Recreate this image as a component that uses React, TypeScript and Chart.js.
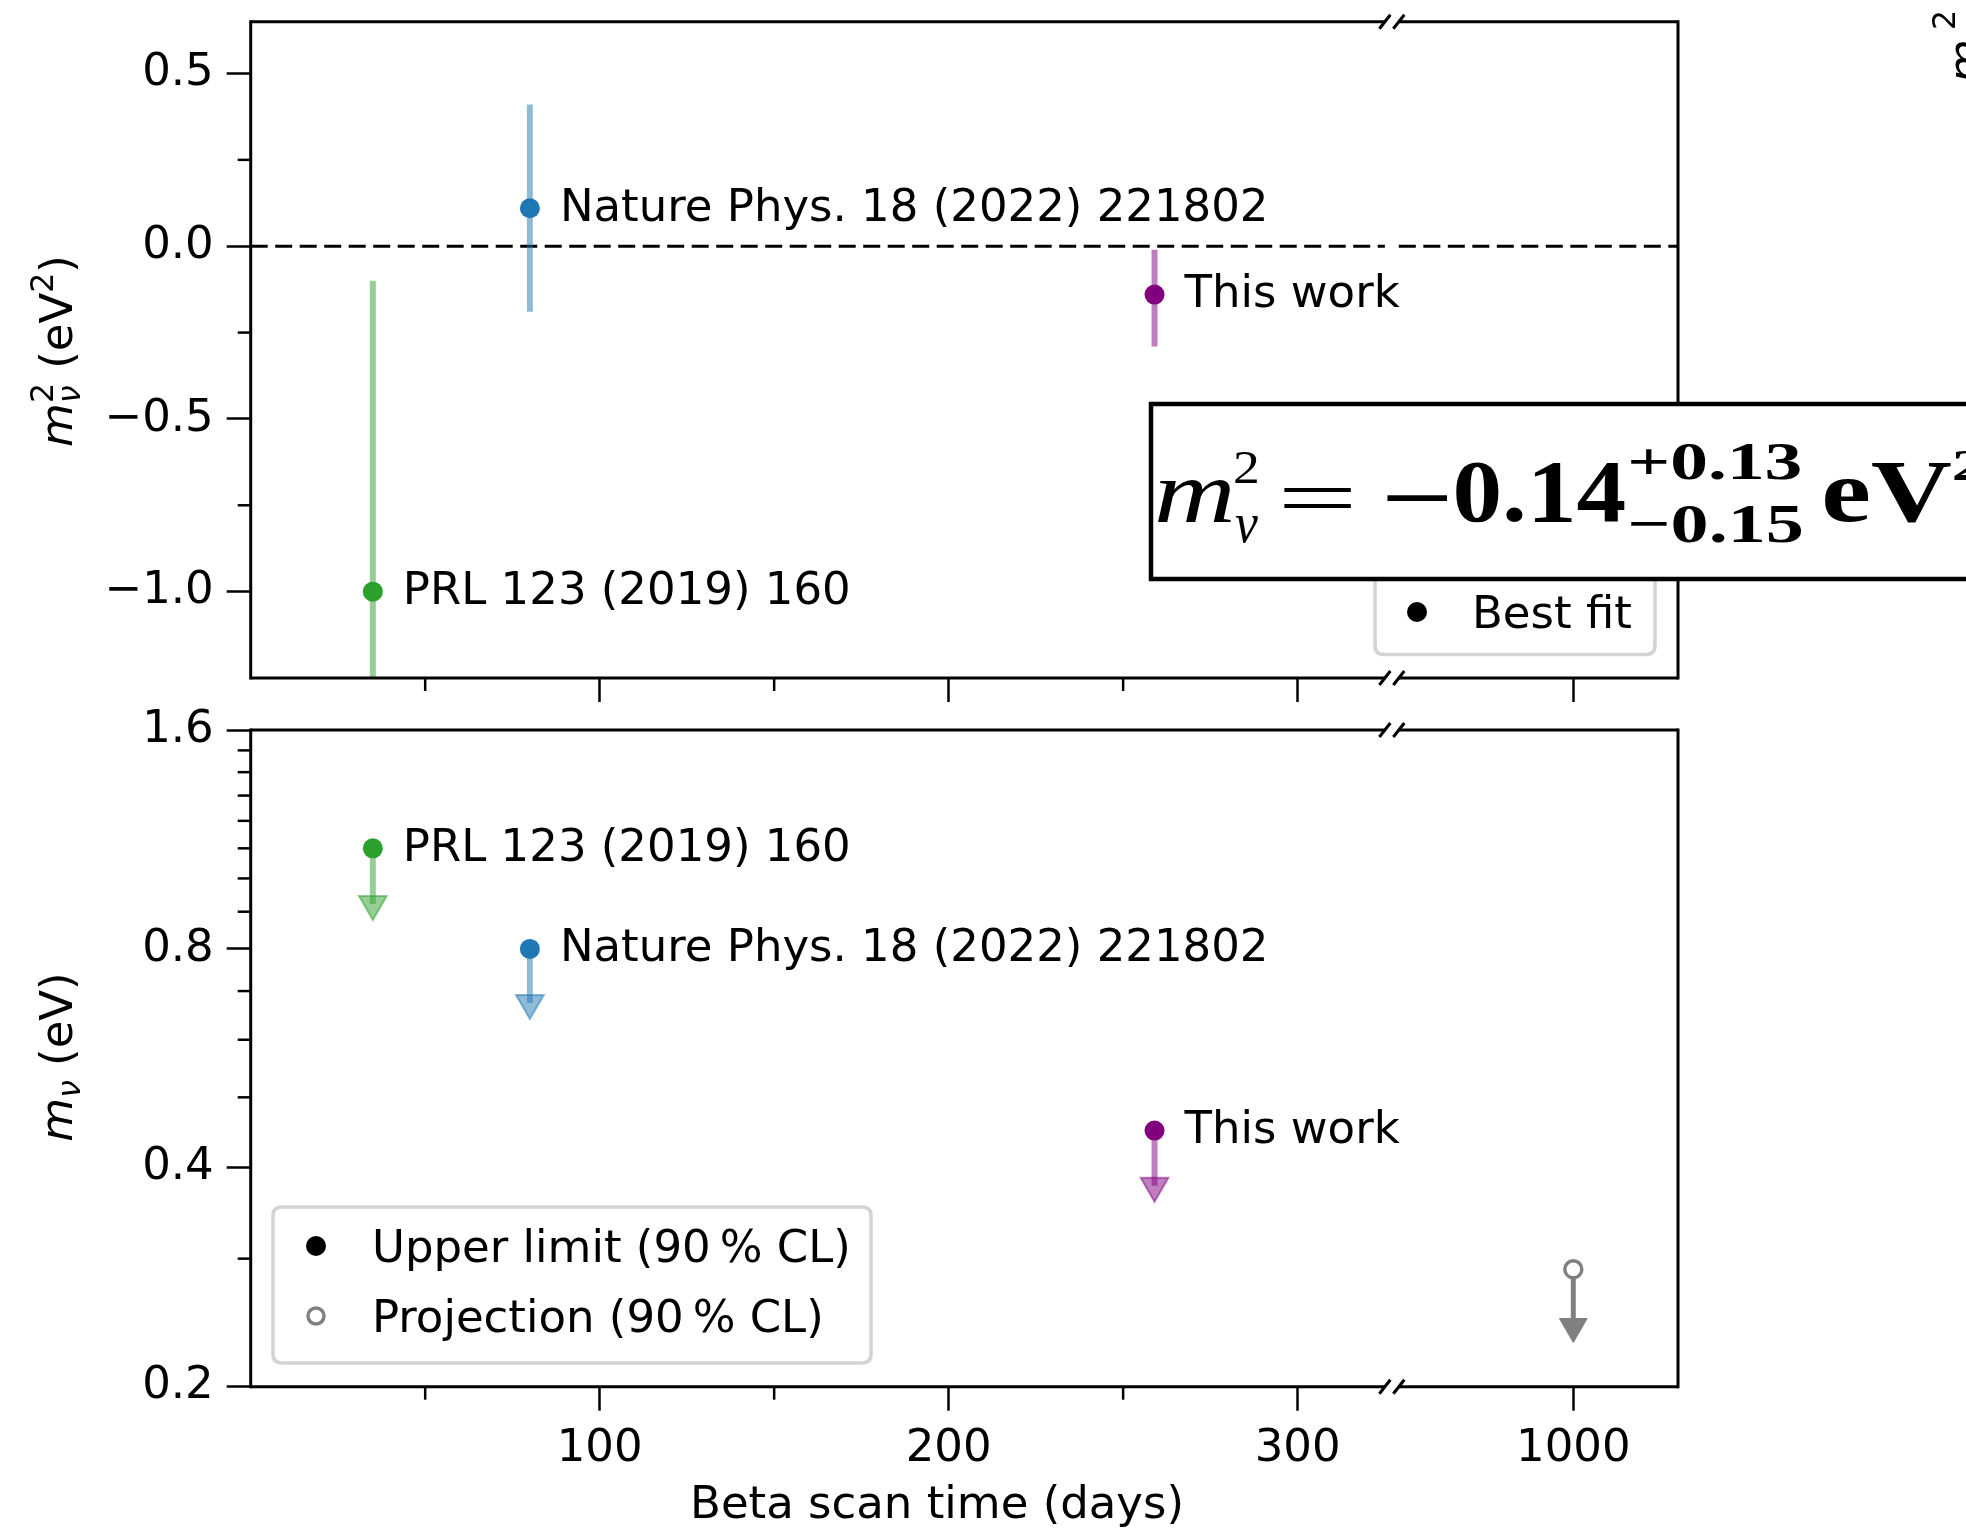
import React, { useEffect, useRef } from 'react';
import { Chart, registerables, LinearScale } from 'chart.js';

// ---------------- data ----------------
const SOURCE_LABELS = ['PRL 123 (2019) 160', 'Nature Phys. 18 (2022) 221802', 'This work'];
const SCAN_DAYS = [35, 80, 259];
const POINT_COLORS = ['#2ca02c', '#1f77b4', '#800080'];
const BAR_COLORS = ['rgba(44,160,44,0.5)', 'rgba(31,119,180,0.5)', 'rgba(128,0,128,0.5)'];

// top panel: m_nu^2 best fit with asymmetric intervals (eV^2)
const M2_BEST = [-1.0, 0.11, -0.14];
const M2_LOW = [-2.1, -0.19, -0.29];
const M2_HIGH = [-0.1, 0.41, -0.01];

// bottom panel: m_nu upper limits (eV) and arrow end values
const M_LIMIT = [1.1, 0.8, 0.45];
const M_ARROW_END = [0.922, 0.674, 0.378];

// projection
const PROJ_DAYS = [1000];
const PROJ_LIMIT = [0.29];
const PROJ_ARROW_END = [0.242];
const GREY = '#808080';

// axes
const X_MAJOR = [100, 200, 300, 1000];
const X_MINOR = [50, 150, 250];
const X_LEFT_MAX = 325;
const X_RIGHT_MIN = 950;
const X_RIGHT_MAX = 1030;
const X_BREAK_GAP = 4;

const Y_TOP_MIN = -1.25;
const Y_TOP_MAX = 0.65;
const Y_TOP_MAJOR = [-1.0, -0.5, 0.0, 0.5];
const Y_TOP_MINOR = [-0.75, -0.25, 0.25];

const Y_BOT_MIN = 0.2;
const Y_BOT_MAX = 1.6;
const Y_BOT_MAJOR = [0.2, 0.4, 0.8, 1.6];
const Y_BOT_MINOR = [0.3, 0.5, 0.6, 0.7, 0.9, 1.0, 1.1, 1.2, 1.3, 1.4, 1.5];

const X_TITLE = 'Beta scan time (days)';
const LEGEND_TOP = ['Best fit'];
const LEGEND_BOTTOM = ['Upper limit (90\u2009% CL)', 'Projection (90\u2009% CL)'];

// ---------------- layout ----------------
const W = 1966;
const TOP_H = 720;
const BOT_TOP = 680;
const BOT_H = 850;
const AREA_LEFT = 250.7;
const AREA_RIGHT = 1678;
const TOP_AREA_TOP = 21.7;
const TOP_AREA_BOTTOM = 678;
const BOT_AREA_TOP = 730 - BOT_TOP;
const BOT_AREA_BOTTOM = 1386.7 - BOT_TOP;
const FONT = '"DejaVu Sans"';
const SERIF = '"Liberation Serif"';

Chart.register(...registerables);

class BrokenScale extends (LinearScale as any) {
  static id = 'broken';
  determineDataLimits() {
    this.min = 0;
    this.max = X_LEFT_MAX + X_BREAK_GAP + (X_RIGHT_MAX - X_RIGHT_MIN);
  }
  buildTicks() {
    this.start = this.min;
    this.end = this.max;
    return [...X_MINOR, ...X_MAJOR].sort((a, b) => a - b).map((v) => ({ value: v }));
  }
  getPixelForValue(v: any) {
    if (v === null || v === undefined || Number.isNaN(v)) return NaN;
    const c = v >= X_RIGHT_MIN ? v - X_RIGHT_MIN + X_LEFT_MAX + X_BREAK_GAP : v;
    return super.getPixelForValue(c);
  }
}
Chart.register(BrokenScale as any);
Chart.defaults.font.family = 'DejaVu Sans';
Chart.defaults.color = '#000';

const fmt = (v: number) => v.toFixed(1).replace('-', '\u2212');

function line(ctx: CanvasRenderingContext2D, x1: number, y1: number, x2: number, y2: number) {
  ctx.beginPath();
  ctx.moveTo(x1, y1);
  ctx.lineTo(x2, y2);
  ctx.stroke();
}

function drawFrame(chart: any, yMinor: number[]) {
  const { ctx, chartArea: a, scales } = chart;
  const xs = scales.x;
  const ys = scales.y;
  const bl = xs.getPixelForValue(X_LEFT_MAX);
  const br = xs.getPixelForValue(X_RIGHT_MIN);
  ctx.save();
  ctx.strokeStyle = '#000';
  ctx.lineWidth = 3;
  ctx.lineCap = 'square';
  line(ctx, a.left, a.top, a.left, a.bottom);
  line(ctx, a.right, a.top, a.right, a.bottom);
  ctx.lineCap = 'butt';
  for (const y of [a.top, a.bottom]) {
    line(ctx, a.left, y, bl, y);
    line(ctx, br, y, a.right, y);
  }
  ctx.lineWidth = 3;
  for (const y of [a.top, a.bottom]) {
    for (const x of [bl, br]) line(ctx, x - 5.5, y + 7, x + 5.5, y - 7);
  }
  ctx.lineWidth = 2.5;
  for (const v of X_MINOR) {
    const px = xs.getPixelForValue(v);
    line(ctx, px, a.bottom, px, a.bottom + 13);
  }
  for (const v of yMinor) {
    const py = ys.getPixelForValue(v);
    line(ctx, a.left - 13, py, a.left, py);
  }
  ctx.restore();
}

function drawAnnotations(chart: any, values: number[]) {
  const { ctx, scales } = chart;
  ctx.save();
  ctx.fillStyle = '#000';
  ctx.font = `45px ${FONT}`;
  ctx.textAlign = 'left';
  ctx.textBaseline = 'alphabetic';
  SOURCE_LABELS.forEach((t, i) => {
    const px = scales.x.getPixelForValue(SCAN_DAYS[i]);
    const py = scales.y.getPixelForValue(values[i]);
    ctx.fillText(t, px + 30, py + 12.4);
  });
  ctx.restore();
}

function roundRect(ctx: CanvasRenderingContext2D, x: number, y: number, w: number, h: number, r: number) {
  ctx.beginPath();
  ctx.moveTo(x + r, y);
  ctx.lineTo(x + w - r, y);
  ctx.quadraticCurveTo(x + w, y, x + w, y + r);
  ctx.lineTo(x + w, y + h - r);
  ctx.quadraticCurveTo(x + w, y + h, x + w - r, y + h);
  ctx.lineTo(x + r, y + h);
  ctx.quadraticCurveTo(x, y + h, x, y + h - r);
  ctx.lineTo(x, y + r);
  ctx.quadraticCurveTo(x, y, x + r, y);
  ctx.closePath();
}

function drawLegendBox(ctx: CanvasRenderingContext2D, x: number, y: number, w: number, h: number) {
  ctx.save();
  roundRect(ctx, x, y, w, h, 9);
  ctx.fillStyle = 'rgba(255,255,255,0.85)';
  ctx.fill();
  ctx.strokeStyle = '#d3d3d3';
  ctx.lineWidth = 3.5;
  ctx.stroke();
  ctx.restore();
}

type Seg = { t: string; f: string; dy: number }[];
function drawRichRot(ctx: CanvasRenderingContext2D, bx: number, cy: number, segs: Seg[]) {
  ctx.save();
  const widths = segs.map((seg) =>
    Math.max(
      ...seg.map((p) => {
        ctx.font = p.f;
        return ctx.measureText(p.t).width;
      })
    )
  );
  const total = widths.reduce((s, v) => s + v, 0);
  ctx.translate(bx, cy + total / 2);
  ctx.rotate(-Math.PI / 2);
  ctx.fillStyle = '#000';
  ctx.textAlign = 'left';
  ctx.textBaseline = 'alphabetic';
  let x = 0;
  segs.forEach((seg, i) => {
    seg.forEach((p) => {
      ctx.font = p.f;
      ctx.fillText(p.t, x, -p.dy);
    });
    x += widths[i];
  });
  ctx.restore();
}

function drawInk(ctx: CanvasRenderingContext2D, t: string, f: string, x0: number, x1: number, y0: number, y1: number) {
  ctx.save();
  ctx.font = f;
  ctx.textAlign = 'left';
  ctx.textBaseline = 'alphabetic';
  const m = ctx.measureText(t);
  const w = m.actualBoundingBoxLeft + m.actualBoundingBoxRight;
  const h = m.actualBoundingBoxAscent + m.actualBoundingBoxDescent;
  ctx.translate(x0, y0);
  ctx.scale((x1 - x0) / w, (y1 - y0) / h);
  ctx.fillStyle = '#000';
  ctx.fillText(t, m.actualBoundingBoxLeft, m.actualBoundingBoxAscent);
  ctx.restore();
}

const M_IT = `italic 45px ${FONT}`;
const M_RM = `45px ${FONT}`;
const S_IT = `italic 31.5px ${FONT}`;
const S_RM = `31.5px ${FONT}`;

const topPlugin = {
  id: 'topExtras',
  afterDraw(chart: any) {
    const { ctx } = chart;
    drawFrame(chart, Y_TOP_MINOR);
    drawAnnotations(chart, M2_BEST);
    // y title
    drawRichRot(ctx, 72, 351, [
      [{ t: 'm', f: M_IT, dy: 0 }],
      [
        { t: '2', f: S_RM, dy: 19 },
        { t: '\u03bd', f: S_IT, dy: -8 },
      ],
      [{ t: ' (eV', f: M_RM, dy: 0 }],
      [{ t: '2', f: S_RM, dy: 19 }],
      [{ t: ')', f: M_RM, dy: 0 }],
    ]);
    // legend "Best fit"
    drawLegendBox(ctx, 1375, 560, 280, 94.5);
    ctx.save();
    ctx.fillStyle = '#000';
    ctx.beginPath();
    ctx.arc(1417, 612, 10, 0, Math.PI * 2);
    ctx.fill();
    ctx.font = M_RM;
    ctx.fillText(LEGEND_TOP[0], 1472, 628.4);
    ctx.restore();
    // equation box
    ctx.save();
    ctx.fillStyle = '#fff';
    ctx.fillRect(1151, 404, 900, 175);
    ctx.strokeStyle = '#000';
    ctx.lineWidth = 4.5;
    ctx.strokeRect(1151, 404, 900, 175);
    ctx.restore();
    const B = `bold 84px ${SERIF}`;
    const BS = `bold 56px ${SERIF}`;
    drawInk(ctx, 'm', `italic 84px ${SERIF}`, 1158, 1232, 479, 521.7);
    drawInk(ctx, '2', `56px ${SERIF}`, 1235, 1257, 452, 483);
    drawInk(ctx, '\u03bd', `italic 56px ${SERIF}`, 1235, 1258, 516, 543);
    drawInk(ctx, '=', `84px ${SERIF}`, 1284, 1352, 487, 508);
    drawInk(ctx, '\u2212', B, 1387, 1448, 495, 502);
    drawInk(ctx, '0.14', B, 1456, 1625, 461, 521.7);
    drawInk(ctx, '+0.13', BS, 1630, 1801, 443, 480);
    drawInk(ctx, '\u22120.15', BS, 1630, 1801, 505, 543);
    drawInk(ctx, 'eV', B, 1824, 1951, 461, 521.7);
    drawInk(ctx, '2', BS, 1954, 1984, 450, 480);
    // fragment of neighbouring panel label
    ctx.save();
    ctx.translate(1980, 83);
    ctx.rotate(-Math.PI / 2);
    ctx.fillStyle = '#000';
    ctx.font = M_IT;
    ctx.fillText('m', 0, 0);
    ctx.font = S_RM;
    ctx.fillText('2', 53, -25);
    ctx.restore();
  },
};

const botPlugin = {
  id: 'botExtras',
  afterDraw(chart: any) {
    const { ctx } = chart;
    drawFrame(chart, Y_BOT_MINOR);
    drawAnnotations(chart, M_LIMIT);
    drawRichRot(ctx, 72, 1057 - BOT_TOP, [
      [{ t: 'm', f: M_IT, dy: 0 }],
      [{ t: '\u03bd', f: S_IT, dy: -8 }],
      [{ t: ' (eV)', f: M_RM, dy: 0 }],
    ]);
    // legend
    const ly = 1207 - BOT_TOP;
    drawLegendBox(ctx, 273, ly, 598, 156);
    ctx.save();
    ctx.fillStyle = '#000';
    ctx.beginPath();
    ctx.arc(316, 1246 - BOT_TOP, 10, 0, Math.PI * 2);
    ctx.fill();
    ctx.strokeStyle = GREY;
    ctx.lineWidth = 3.5;
    ctx.beginPath();
    ctx.arc(316, 1316 - BOT_TOP, 8, 0, Math.PI * 2);
    ctx.stroke();
    ctx.font = M_RM;
    ctx.fillText(LEGEND_BOTTOM[0], 372, 1246 - BOT_TOP + 16.4);
    ctx.fillText(LEGEND_BOTTOM[1], 372, 1316 - BOT_TOP + 16.4);
    // x title
    ctx.textAlign = 'center';
    ctx.fillText(X_TITLE, 937, 1518 - BOT_TOP);
    ctx.restore();
  },
};

function gridOpts(minor: number[]) {
  return {
    display: true,
    drawOnChartArea: false,
    drawTicks: true,
    tickLength: 24,
    tickWidth: 2.5,
    tickColor: (c: any) => (c.tick && minor.includes(c.tick.value) ? 'rgba(0,0,0,0)' : '#000'),
  };
}

const tickFont = { family: 'DejaVu Sans', size: 45 };

function baseOptions(areaTop: number, canvasH: number, areaBottom: number, showXLabels: boolean) {
  return {
    animation: false,
    responsive: false,
    devicePixelRatio: 1,
    events: [],
    layout: { padding: { left: 0, top: areaTop, right: W - AREA_RIGHT, bottom: 0 } },
    plugins: { legend: { display: false }, tooltip: { enabled: false }, title: { display: false } },
    elements: { line: { tension: 0 } },
    scales: {
      x: {
        type: 'broken',
        position: 'bottom',
        grid: gridOpts(X_MINOR),
        border: { display: false },
        ticks: {
          display: showXLabels,
          autoSkip: false,
          maxRotation: 0,
          minRotation: 0,
          padding: 12,
          color: '#000',
          font: tickFont,
          callback: (v: number) => (X_MAJOR.includes(v) ? String(v) : ''),
        },
        afterFit: (s: any) => {
          s.height = canvasH - areaBottom;
          s.paddingLeft = 0;
          s.paddingRight = 0;
        },
      },
    },
  } as any;
}

function topConfig(): any {
  const options = baseOptions(TOP_AREA_TOP, TOP_H, TOP_AREA_BOTTOM, false);
  options.scales.y = {
    type: 'linear',
    min: Y_TOP_MIN,
    max: Y_TOP_MAX,
    afterBuildTicks: (s: any) => {
      s.ticks = [...Y_TOP_MINOR, ...Y_TOP_MAJOR].sort((a, b) => a - b).map((v) => ({ value: v }));
    },
    grid: gridOpts(Y_TOP_MINOR),
    border: { display: false },
    ticks: {
      autoSkip: false,
      padding: 13,
      color: '#000',
      font: tickFont,
      callback: (v: number) => (Y_TOP_MAJOR.includes(v) ? fmt(v) : ''),
    },
    afterFit: (s: any) => {
      s.width = AREA_LEFT;
      s.paddingTop = 0;
      s.paddingBottom = 0;
    },
  };
  const datasets: any[] = [
    {
      data: [{ x: 0, y: 0 }, { x: X_LEFT_MAX, y: 0 }],
      borderColor: '#000',
      borderWidth: 3,
      borderDash: [17, 7.5],
      pointRadius: 0,
      order: 3,
      clip: 0,
    },
    {
      data: [{ x: X_RIGHT_MIN, y: 0 }, { x: X_RIGHT_MAX, y: 0 }],
      borderColor: '#000',
      borderWidth: 3,
      borderDash: [17, 7.5],
      pointRadius: 0,
      order: 3,
      clip: 0,
    },
    ...SCAN_DAYS.map((d, i) => ({
      data: [{ x: d, y: M2_LOW[i] }, { x: d, y: M2_HIGH[i] }],
      borderColor: BAR_COLORS[i],
      borderWidth: 6,
      borderCapStyle: 'butt',
      pointRadius: 0,
      order: 2,
      clip: 0,
    })),
    {
      data: SCAN_DAYS.map((d, i) => ({ x: d, y: M2_BEST[i] })),
      showLine: false,
      pointRadius: 10,
      pointBackgroundColor: POINT_COLORS,
      pointBorderColor: POINT_COLORS,
      pointBorderWidth: 0,
      order: 0,
      clip: 0,
    },
  ];
  return { type: 'line', data: { datasets }, options, plugins: [topPlugin] };
}

function botConfig(): any {
  const options = baseOptions(BOT_AREA_TOP, BOT_H, BOT_AREA_BOTTOM, true);
  options.scales.y = {
    type: 'logarithmic',
    min: Y_BOT_MIN,
    max: Y_BOT_MAX,
    afterBuildTicks: (s: any) => {
      s.ticks = [...Y_BOT_MINOR, ...Y_BOT_MAJOR].sort((a, b) => a - b).map((v) => ({ value: v }));
    },
    grid: gridOpts(Y_BOT_MINOR),
    border: { display: false },
    ticks: {
      autoSkip: false,
      padding: 13,
      color: '#000',
      font: tickFont,
      callback: (v: number) => (Y_BOT_MAJOR.includes(v) ? v.toFixed(1) : ''),
    },
    afterFit: (s: any) => {
      s.width = AREA_LEFT;
      s.paddingTop = 0;
      s.paddingBottom = 0;
    },
  };
  const datasets: any[] = [
    ...SCAN_DAYS.map((d, i) => ({
      data: [{ x: d, y: M_LIMIT[i] }, { x: d, y: M_ARROW_END[i] }],
      borderColor: BAR_COLORS[i],
      borderWidth: 6,
      borderCapStyle: 'butt',
      pointRadius: 0,
      order: 2,
      clip: 0,
    })),
    {
      data: SCAN_DAYS.map((d, i) => ({ x: d, y: M_ARROW_END[i] })),
      showLine: false,
      pointStyle: 'triangle',
      pointRotation: 180,
      pointRadius: 16,
      pointBackgroundColor: BAR_COLORS,
      pointBorderColor: BAR_COLORS,
      pointBorderWidth: 2,
      order: 1,
      clip: 0,
    },
    {
      data: SCAN_DAYS.map((d, i) => ({ x: d, y: M_LIMIT[i] })),
      showLine: false,
      pointRadius: 10,
      pointBackgroundColor: POINT_COLORS,
      pointBorderColor: POINT_COLORS,
      pointBorderWidth: 0,
      order: 0,
      clip: 0,
    },
    {
      data: [{ x: PROJ_DAYS[0], y: PROJ_LIMIT[0] }, { x: PROJ_DAYS[0], y: PROJ_ARROW_END[0] }],
      borderColor: GREY,
      borderWidth: 5,
      borderCapStyle: 'butt',
      pointRadius: 0,
      order: 2,
      clip: 0,
    },
    {
      data: PROJ_DAYS.map((d, i) => ({ x: d, y: PROJ_ARROW_END[i] })),
      showLine: false,
      pointStyle: 'triangle',
      pointRotation: 180,
      pointRadius: 16,
      pointBackgroundColor: GREY,
      pointBorderColor: GREY,
      pointBorderWidth: 1,
      order: 1,
      clip: 0,
    },
    {
      data: PROJ_DAYS.map((d, i) => ({ x: d, y: PROJ_LIMIT[i] })),
      showLine: false,
      pointRadius: 8.5,
      pointBackgroundColor: '#fff',
      pointBorderColor: GREY,
      pointBorderWidth: 3.5,
      order: 0,
      clip: 0,
    },
  ];
  return { type: 'line', data: { datasets }, options, plugins: [botPlugin] };
}

export default function App() {
  const topRef = useRef<HTMLCanvasElement>(null);
  const botRef = useRef<HTMLCanvasElement>(null);
  useEffect(() => {
    const top = new Chart(topRef.current as any, topConfig());
    const bot = new Chart(botRef.current as any, botConfig());
    return () => {
      top.destroy();
      bot.destroy();
    };
  }, []);
  return (
    <div style={{ position: 'absolute', left: 0, top: 0, width: W, height: 1530, background: '#fff', overflow: 'hidden' }}>
      <canvas ref={topRef} width={W} height={TOP_H} style={{ position: 'absolute', left: 0, top: 0 }} />
      <canvas ref={botRef} width={W} height={BOT_H} style={{ position: 'absolute', left: 0, top: BOT_TOP }} />
    </div>
  );
}
